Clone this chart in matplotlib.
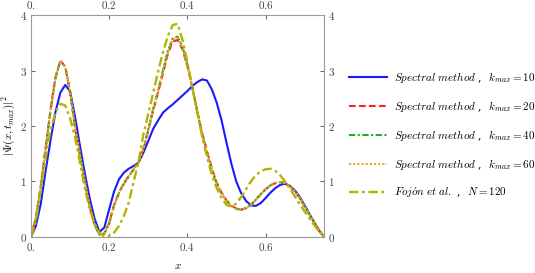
import numpy as np
import matplotlib
matplotlib.use("Agg")
import matplotlib.pyplot as plt

plt.rcParams['mathtext.fontset'] = 'cm'
plt.rcParams['font.family'] = ['DejaVu Serif']

# sample grid, every 0.0125
x = np.linspace(0.0, 0.75, 61)

psi_k10 = [0.00, 0.20, 0.60, 1.20, 1.75, 2.25, 2.60, 2.74, 2.62, 2.17,
           1.65, 1.15, 0.70, 0.33, 0.09, 0.17, 0.50, 0.82, 1.04, 1.16,
           1.23, 1.28, 1.34, 1.52, 1.73, 1.95, 2.10, 2.24, 2.32, 2.39,
           2.47, 2.55, 2.63, 2.72, 2.79, 2.84, 2.82, 2.66, 2.42, 2.10,
           1.70, 1.32, 1.00, 0.79, 0.65, 0.57, 0.56, 0.61, 0.70, 0.80,
           0.88, 0.94, 0.96, 0.92, 0.84, 0.72, 0.57, 0.41, 0.26, 0.11,
           0.00]

psi_k20 = [0.00, 0.35, 0.92, 1.62, 2.30, 2.88, 3.18, 3.07, 2.60, 1.98,
           1.48, 1.00, 0.55, 0.22, 0.04, 0.06, 0.25, 0.58, 0.80, 0.97,
           1.10, 1.22, 1.35, 1.58, 1.92, 2.28, 2.60, 2.95, 3.30, 3.52,
           3.55, 3.38, 3.08, 2.70, 2.28, 1.88, 1.55, 1.24, 0.98, 0.80,
           0.66, 0.57, 0.51, 0.49, 0.52, 0.58, 0.67, 0.77, 0.86, 0.93,
           0.97, 0.99, 0.97, 0.91, 0.82, 0.70, 0.55, 0.40, 0.25, 0.11,
           0.00]

psi_k40 = [0.00, 0.34, 0.90, 1.60, 2.28, 2.86, 3.16, 3.07, 2.62, 2.00,
           1.50, 1.01, 0.56, 0.23, 0.04, 0.06, 0.25, 0.57, 0.79, 0.96,
           1.09, 1.22, 1.35, 1.59, 1.94, 2.31, 2.64, 3.00, 3.35, 3.58,
           3.61, 3.43, 3.10, 2.70, 2.27, 1.86, 1.52, 1.21, 0.96, 0.78,
           0.65, 0.56, 0.51, 0.49, 0.52, 0.58, 0.67, 0.77, 0.86, 0.93,
           0.97, 0.99, 0.97, 0.91, 0.82, 0.70, 0.55, 0.40, 0.25, 0.11,
           0.00]

psi_k60 = [0.00, 0.34, 0.91, 1.61, 2.29, 2.87, 3.17, 3.07, 2.61, 1.99,
           1.49, 1.00, 0.56, 0.22, 0.04, 0.06, 0.25, 0.57, 0.79, 0.96,
           1.09, 1.22, 1.35, 1.59, 1.93, 2.30, 2.62, 2.98, 3.33, 3.56,
           3.59, 3.41, 3.09, 2.70, 2.28, 1.87, 1.53, 1.22, 0.97, 0.79,
           0.65, 0.56, 0.51, 0.49, 0.52, 0.58, 0.67, 0.77, 0.86, 0.93,
           0.97, 0.99, 0.97, 0.91, 0.82, 0.70, 0.55, 0.40, 0.25, 0.11,
           0.00]

psi_fojon = [0.00, 0.28, 0.85, 1.42, 1.92, 2.25, 2.40, 2.37, 2.14, 1.80,
             1.35, 0.88, 0.50, 0.24, 0.08, 0.01, 0.02, 0.08, 0.20, 0.38,
             0.62, 1.00, 1.35, 1.85, 2.22, 2.60, 2.98, 3.33, 3.62, 3.82,
             3.84, 3.55, 3.15, 2.70, 2.25, 1.82, 1.45, 1.12, 0.88, 0.70,
             0.58, 0.55, 0.60, 0.72, 0.86, 1.00, 1.11, 1.18, 1.22, 1.23,
             1.19, 1.11, 1.00, 0.87, 0.73, 0.59, 0.46, 0.33, 0.21, 0.09,
             0.00]

labels = [r"$\mathit{Spectral\ method}$ ,  $k_{max} = 10$",
          r"$\mathit{Spectral\ method}$ ,  $k_{max} = 20$",
          r"$\mathit{Spectral\ method}$ ,  $k_{max} = 40$",
          r"$\mathit{Spectral\ method}$ ,  $k_{max} = 60$",
          r"$\mathit{Foj\acute{o}n\ et\ al.}$ ,  $N = 120$"]

fig = plt.figure(figsize=(5.35, 2.73), dpi=100)
ax = fig.add_axes([0.058, 0.132, 0.548, 0.813])

ax.plot(x, psi_k10, color='#1a1aff', lw=1.5, ls='-', label=labels[0])
ax.plot(x, psi_k20, color='#ff2020', lw=1.5, ls=(0, (3.2, 1.6)), label=labels[1])
ax.plot(x, psi_k40, color='#20b020', lw=1.5, ls=(0, (3, 1.2, 1, 1.2)), label=labels[2])
ax.plot(x, psi_k60, color='#ff9933', lw=1.5, ls=(0, (1, 1)), label=labels[3])
ax.plot(x, psi_fojon, color='#b3b300', lw=1.7, ls=(0, (4, 1.5, 1.2, 1.5)), label=labels[4])

ax.set_xlim(0, 0.75)
ax.set_ylim(0, 4)
xt = [0, 0.2, 0.4, 0.6]
xl = ["$0.$", "$0.2$", "$0.4$", "$0.6$"]
ax.set_xticks(xt)
ax.set_xticklabels(xl)
ax.set_yticks([0, 1, 2, 3, 4])
ax.set_yticklabels(["$0$", "$1$", "$2$", "$3$", "$4$"])
ax.tick_params(direction='in', length=3, width=0.6, colors='#444444',
               labelsize=8, top=True, right=True, labeltop=True, labelright=True)
ax.tick_params(axis='x', pad=3)
ax.tick_params(axis='y', pad=3)
for s in ax.spines.values():
    s.set_color('#999999')
    s.set_linewidth(0.8)

ax.set_xlabel("$x$", fontsize=8, labelpad=6)
ax.set_ylabel(r"$|\Psi(x, t_{max})|^2$", fontsize=8, labelpad=2)

ax.legend(loc='center left', bbox_to_anchor=(1.085, 0.46), frameon=False,
          fontsize=8, handlelength=3.4, handletextpad=0.63, labelspacing=1.25,
          borderaxespad=0.0, borderpad=0.0)

fig.savefig("out.png", dpi=100)
